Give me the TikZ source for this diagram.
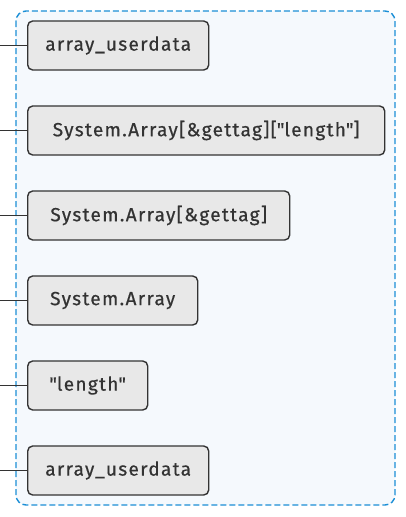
\documentclass[tikz,border=0pt]{standalone}
\usepackage{fontspec}
\setmainfont[LetterSpace=7, FakeBold=0.6]{Fira Sans}
\usepackage{xcolor}
\usetikzlibrary{positioning,backgrounds}

\definecolor{boxfill}{HTML}{E8E8E8}
\definecolor{boxline}{HTML}{333333}
\definecolor{grpline}{HTML}{1B8FD6}
\definecolor{grpfill}{HTML}{F5F9FD}

\begin{document}
\begin{tikzpicture}[x=1pt, y=-1pt,
    item/.style={rectangle, rounded corners=5pt, draw=boxline, line width=1.4pt, fill=boxfill, anchor=west, minimum height=49pt, inner xsep=12pt, font=\fontsize{19}{22}\selectfont, text=boxline},
    link/.style={draw=boxline, line width=1.2pt},
    group/.style={draw=grpline, dash pattern=on 6pt off 3pt, line width=1.4pt, fill=grpfill, rounded corners=10pt}
]
    \useasboundingbox (0,0) rectangle (406,517);

    % Group frame
    \draw[group] (16,11) rectangle (395,505);

    % Stack items
    \node[item, minimum width=181pt] (ud1) at (27,45.5) {array\_userdata};
    \node[item, minimum width=357pt] (len) at (27,130.5) {System.Array[\&gettag][\textquotedbl length\textquotedbl]};
    \node[item, minimum width=262pt] (tag) at (27,215.5) {System.Array[\&gettag]};
    \node[item, minimum width=170pt] (arr) at (27,300.5) {System.Array};
    \node[item, minimum width=120pt] (str) at (27,385.5) {\textquotedbl length\textquotedbl};
    \node[item, minimum width=181pt] (ud2) at (27,470.5) {array\_userdata};

    % Left stubs
    \foreach \n in {ud1,len,tag,arr,str,ud2} {
        \coordinate (\n-in) at (0,0 |- \n.west);
        \draw[link] (\n-in) -- (\n.west);
    }
\end{tikzpicture}
\end{document}
